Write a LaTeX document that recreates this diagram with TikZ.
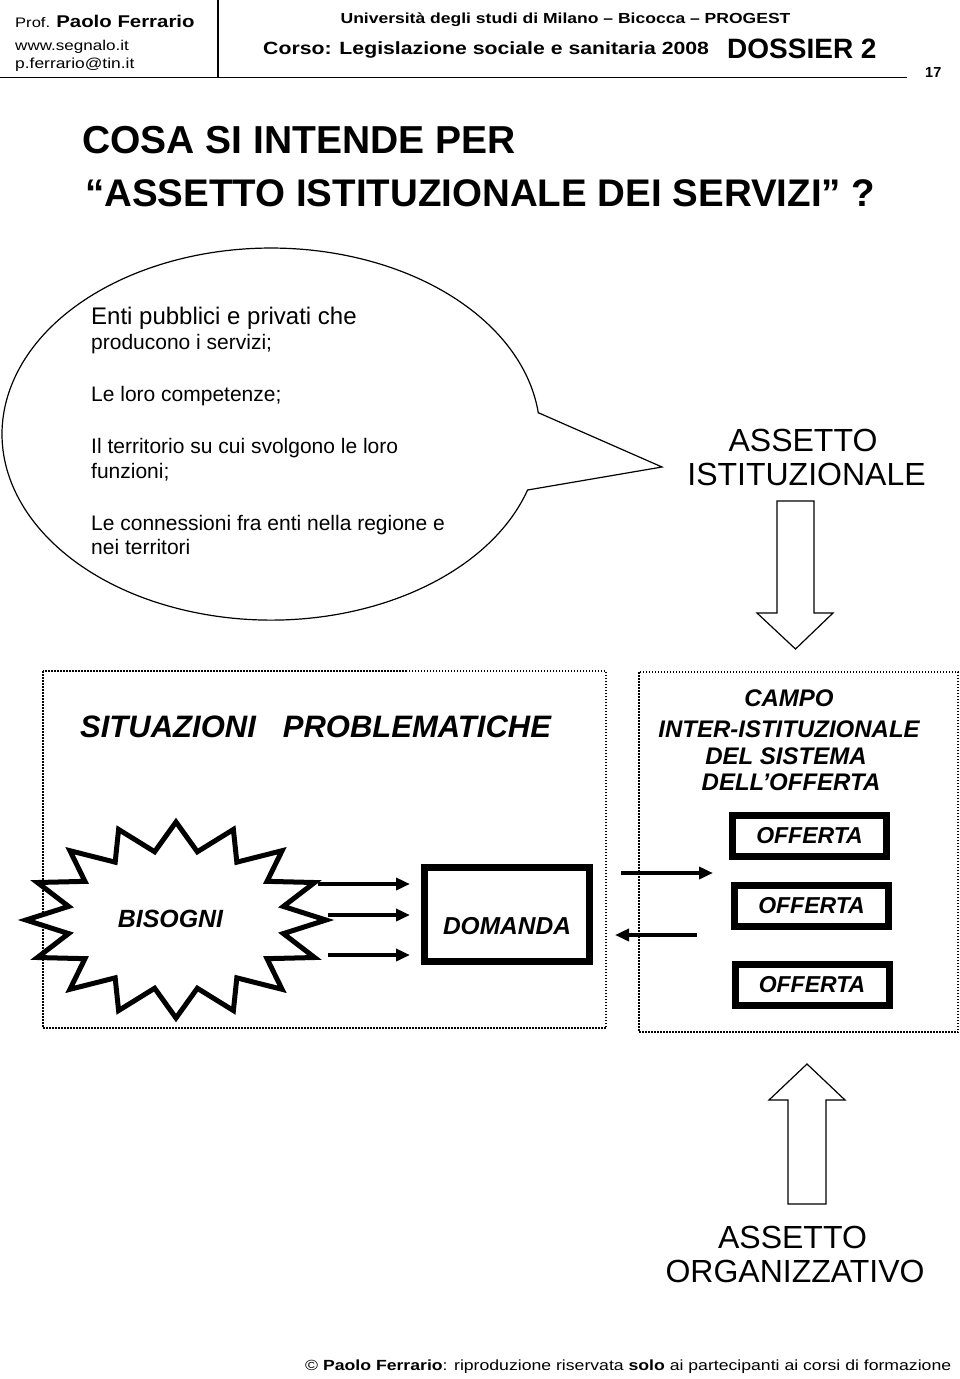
\documentclass[tikz,border=0pt]{standalone}
\usepackage{fontspec}
\setmainfont{Liberation Sans}
\newfontfamily\widefont[FakeStretch=1.2]{Liberation Sans}
\usetikzlibrary{arrows.meta}
\newcommand{\fsz}[1]{\fontsize{#1}{#1}\selectfont}

\begin{document}
\begin{tikzpicture}[
    x=1pt, y=-1pt,
    every node/.style={inner sep=0pt},
    txt/.style={anchor=base west},
    ctr/.style={anchor=base},
    dotbox/.style={line width=1.5pt, dash pattern=on 1.5pt off 1.5pt},
    fatbox/.style={draw, line width=7pt, minimum width=154pt, minimum height=41pt,
      font=\bfseries\itshape\fsz{23}},
    flow/.style={line width=3.5pt, -{Triangle[length=14pt,width=12pt]}},
    bigarrow/.style={draw, line width=1.2pt, fill=white}
  ]
  \useasboundingbox (0,0) rectangle (960,1379);

  % header
  \draw[line width=1.2pt] (218,0) -- (218,77.5);
  \draw[line width=1.5pt] (0,77.5) -- (907,77.5);
  \node[txt] (prof) at (15,27) {\widefont\fsz{13.8}Prof. {\bfseries\fsz{17}Paolo Ferrario}};
  \node[txt] (web) at (15,50) {\widefont\fsz{14.2}www.segnalo.it};
  \node[txt] (mail) at (15,68) {\widefont\fsz{14.5}p.ferrario@tin.it};
  \node[ctr] (uni) at (565.5,23.5) {\widefont\bfseries\fsz{14.6}Università degli studi di Milano – Bicocca – PROGEST};
  \node[txt] (corso) at (263,54.3) {\widefont\bfseries\fsz{17.7}Corso: Legislazione sociale e sanitaria 2008};
  \node[txt] (dossier) at (727,58.3) {\bfseries\fsz{28}DOSSIER 2};
  \node[txt] (page) at (925,77) {\bfseries\fsz{14.5}17};

  \node[txt] (t1) at (82,153) {\bfseries\fsz{39}COSA SI INTENDE PER};
  \node[txt] (t2) at (85,206) {\bfseries\fsz{38.5}“ASSETTO ISTITUZIONALE DEI SERVIZI” ?};

  % bubble
  \draw[line width=1.2pt, fill=white] (539,413) -- (662,467) -- (527.6,490)
    arc[start angle=17.5, end angle=353.5, x radius=269, y radius=186] -- cycle;
  \node[txt] (b1) at (91,324) {\fsz{24}Enti pubblici e privati che};
  \node[txt] (b2) at (91,349) {\fsz{21}producono i servizi;};
  \node[txt] (b3) at (91,401.7) {\fsz{21}Le loro competenze;};
  \node[txt] (b4) at (91,453) {\fsz{21}Il territorio su cui svolgono le loro};
  \node[txt] (b5) at (91,478) {\fsz{21}funzioni;};
  \node[txt] (b6) at (91,530) {\fsz{21}Le connessioni fra enti nella regione e};
  \node[txt] (b7) at (91,554) {\fsz{21}nei territori};

  \node[ctr] (ai1) at (803,451) {\fsz{32}ASSETTO};
  \node[ctr] (ai2) at (806.5,485) {\fsz{32}ISTITUZIONALE};
  \draw[bigarrow] (777,501) -- (814,501) -- (814,613) -- (833,613) -- (795.5,649)
    -- (757,613) -- (777,613) -- cycle;

  % lower frames
  \draw[dotbox] (43,671) rectangle (606,1028);
  \draw[dotbox] (639,672) rectangle (958,1032);
  \node[txt] (sit) at (80,737) {\bfseries\itshape\fsz{31}SITUAZIONI\hspace{27pt}PROBLEMATICHE};

  \node[ctr] (c1) at (789,706.7) {\bfseries\itshape\fsz{24}CAMPO};
  \node[ctr] (c2) at (789,737.3) {\bfseries\itshape\fsz{24}INTER-ISTITUZIONALE};
  \node[ctr] (c3) at (786,764) {\bfseries\itshape\fsz{24}DEL SISTEMA};
  \node[ctr] (c4) at (791,790.7) {\bfseries\itshape\fsz{24}DELL’OFFERTA};

  \draw[line width=5pt, fill=white] (326,920)
    \foreach \k in {1,...,31} {
      -- ({176+150*(1-0.27*mod(\k,2))*cos(\k*11.25)}, {920+98*(1-0.29*mod(\k,2))*sin(\k*11.25)})
    } -- cycle;
  \node[font=\bfseries\itshape\fsz{24.9}] (bis) at (170.5,919) {BISOGNI};

  \node[fatbox, minimum width=165pt, minimum height=94pt, font=\bfseries\itshape\fsz{24.5}]
    (dom) at (507,914.5) {\raisebox{-12pt}[\height][\depth]{DOMANDA}};

  \node[fatbox] (off1) at (809.5,836) {OFFERTA};
  \node[fatbox] (off2) at (811.5,906) {OFFERTA};
  \node[fatbox] (off3) at (812,985) {OFFERTA};

  \coordinate (n1) at (318,884);
  \coordinate (n2) at (328,915);
  \coordinate (n3) at (328,955);
  \draw[flow, shorten >=11pt] (n1) -- (dom.west |- n1);
  \draw[flow, shorten >=11pt] (n2) -- (dom.west |- n2);
  \draw[flow, shorten >=11pt] (n3) -- (dom.west |- n3);

  \coordinate (r1) at (621,873);
  \coordinate (l1) at (697,935);
  \draw[flow, shorten >=18pt] (r1) -- (off2.west |- r1);
  \draw[flow, shorten >=22pt] (l1) -- (dom.east |- l1);

  \draw[bigarrow] (788,1204) -- (826,1204) -- (826,1100) -- (845,1100) -- (807,1064)
    -- (769,1100) -- (788,1100) -- cycle;
  \node[ctr] (ao1) at (792.5,1248) {\fsz{32}ASSETTO};
  \node[ctr] (ao2) at (795,1282) {\fsz{32}ORGANIZZATIVO};

  \node[txt] (foot) at (305,1370) {\widefont\fsz{14.7}© {\bfseries Paolo Ferrario}: riproduzione riservata {\bfseries solo} ai partecipanti ai corsi di formazione};
\end{tikzpicture}
\end{document}
